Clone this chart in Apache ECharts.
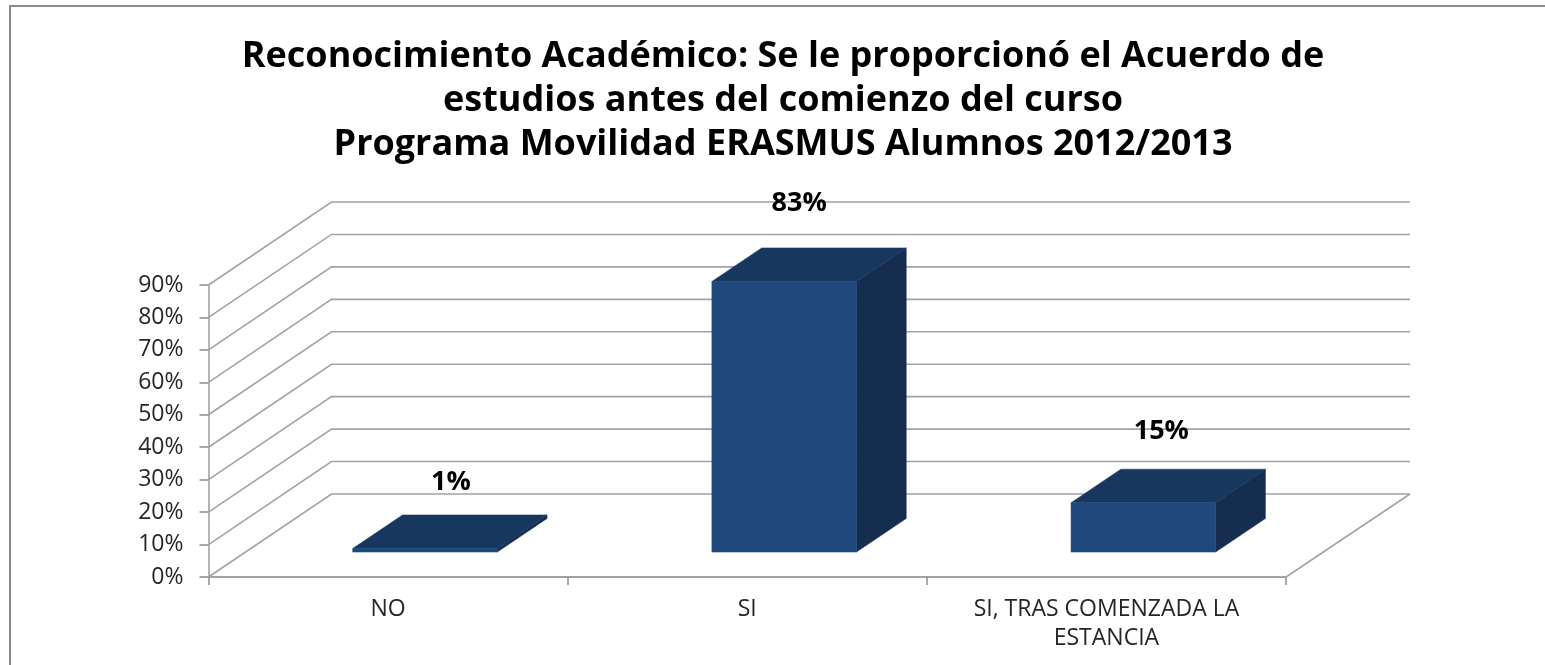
<!DOCTYPE html>
<html><head><meta charset="utf-8">
<style>html,body{margin:0;padding:0;background:#fff}#c{width:1545px;height:665px}</style>
<script src="https://cdn.jsdelivr.net/npm/echarts@6/dist/echarts.min.js"></script>
</head><body><div id="c"></div>
<script>
const titleLines = ['Reconocimiento Académico: Se le proporcionó el Acuerdo de','estudios antes del comienzo del curso','Programa Movilidad ERASMUS Alumnos 2012/2013'];
const categories = ['NO','SI','SI, TRAS COMENZADA LA\nESTANCIA'];
const values = [1.1, 83.4, 15.2];
const gridValues = [0,10,20,30,40,50,60,70,80,90];

// drawing constants (not data)
const DEPTH_X = 123, DEPTH_Y = -83;
const BAR_WIDTH = 0.4025, BAR_NEAR = 0.3, BAR_FAR = 0.705;
const LABEL_NUDGE = [[26,-66],[15,-78],[18,-71]];

function wallItem(params, api){
  const v = api.value(0);
  const cs = params.coordSys;
  const y = api.coord([0, v])[1];
  const x0 = cs.x, x1 = cs.x + cs.width;
  const style = {stroke:'#a3a3a3', lineWidth:1.6, fill:null};
  const kids = [{type:'polyline', shape:{points:[[x0,y],[x0+DEPTH_X,y+DEPTH_Y],[x1+DEPTH_X+1,y+DEPTH_Y]]}, style}];
  if (v === 0) kids.push({type:'line', shape:{x1:x1,y1:y,x2:x1+DEPTH_X+1,y2:y+DEPTH_Y}, style});
  return {type:'group', children:kids};
}
function barItem(params, api){
  const i = api.value(0), v = api.value(1);
  const top = api.coord([i, v]), base = api.coord([i, 0]);
  const bw = api.size([1,0])[0] * BAR_WIDTH;
  const nx = DEPTH_X*BAR_NEAR, ny = DEPTH_Y*BAR_NEAR;
  const fx = DEPTH_X*(BAR_FAR-BAR_NEAR), fy = DEPTH_Y*(BAR_FAR-BAR_NEAR);
  const xl = base[0]-bw/2+nx, xr = base[0]+bw/2+nx, yb = base[1]+ny, yt = top[1]+ny;
  const poly = (pts,c)=>({type:'polygon', shape:{points:pts}, style:{fill:c, stroke:c, lineWidth:0.5}});
  const n = LABEL_NUDGE[i];
  return {type:'group', children:[
    poly([[xr,yb],[xr+fx,yb+fy],[xr+fx,yt+fy],[xr,yt]], '#152E50'),
    poly([[xl,yt],[xr,yt],[xr+fx,yt+fy],[xl+fx,yt+fy]], '#17375E'),
    poly([[xl,yb],[xr,yb],[xr,yt],[xl,yt]], '#1F497D'),
    {type:'text', style:{text:Math.round(v)+'%', x:(xl+xr)/2+n[0], y:yt+n[1], align:'center', verticalAlign:'middle',
      font:'bold 27px "Open Sans"', fill:'#000'}}
  ]};
}
const chart = echarts.init(document.getElementById('c'), null, {renderer:'canvas'});
chart.setOption({
  animation:false,
  backgroundColor:'#fff',
  title:{text:titleLines.join('\n'), left:778, top:30, textAlign:'center',
    textStyle:{fontFamily:'Open Sans', fontWeight:'bold', fontSize:36, lineHeight:44, color:'#000'}},
  graphic:[{type:'polyline', shape:{points:[[1545,6],[10,6],[10,665]]}, style:{stroke:'#8c8c8c', lineWidth:2, fill:null}}],
  grid:{left:208.5, top:285, width:1077.5, height:292, containLabel:false},
  xAxis:{type:'category', data:categories,
    axisLine:{lineStyle:{color:'#a3a3a3', width:2}},
    axisTick:{show:true, length:8, lineStyle:{color:'#8c8c8c', width:1.5}},
    axisLabel:{interval:0, margin:18, fontFamily:'Open Sans', fontSize:23, lineHeight:29, color:'#262626'}},
  yAxis:{type:'value', min:0, max:90, interval:10,
    splitLine:{show:false},
    axisLine:{show:true, lineStyle:{color:'#a3a3a3', width:1.6}},
    axisTick:{show:true, length:9, lineStyle:{color:'#8c8c8c', width:1.5}},
    axisLabel:{margin:25, padding:[3,0,0,0], formatter:'{value}%', fontFamily:'Open Sans', fontSize:23, color:'#262626'}},
  series:[
    {type:'custom', coordinateSystem:'cartesian2d', clip:false, silent:true, z:1,
      encode:{y:0}, data:gridValues.map(v=>[v]), renderItem:wallItem},
    {type:'custom', coordinateSystem:'cartesian2d', clip:false, z:3,
      encode:{x:0,y:1}, data:values.map((v,i)=>[i,v]), renderItem:barItem}
  ]
});
</script></body></html>
